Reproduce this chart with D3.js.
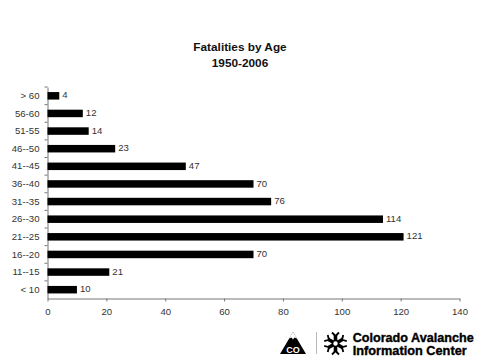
<!DOCTYPE html>
<html><head><meta charset="utf-8">
<script src="https://cdn.jsdelivr.net/npm/d3@7"></script>
<style>html,body{margin:0;padding:0;background:#fff}svg{display:block}text{font-family:"Liberation Sans",Arial,sans-serif}</style>
</head><body><svg id="c" width="480" height="359"></svg>
<script>
const categories=["> 60","56-60","51-55","46--50","41--45","36--40","31--35","26--30","21--25","16--20","11--15","< 10"];
const values=[4,12,14,23,47,70,76,114,121,70,21,10];
const xTicks=[0,20,40,60,80,100,120,140];
const titleLines=["Fatalities by Age","1950-2006"];
const logoLines=["Colorado Avalanche","Information Center"];
const logoWidths=[121,114];
const svg=d3.select("#c");
const x=d3.scaleLinear().domain([0,140]).range([47.5,459.5]);
const y=d3.scaleBand().domain(categories).range([87,298.5]);
const ink="#333";
const fs=9.6;
const xa=svg.append("g").attr("transform","translate(0,298.5)")
 .call(d3.axisBottom(x).tickValues(xTicks).tickSize(3).tickSizeOuter(0).tickPadding(7));
xa.selectAll("text").attr("font-size",fs).attr("fill",ink).style("font-family",'"Liberation Sans",Arial,sans-serif');
const ya=svg.append("g").attr("transform","translate(47.5,0)")
 .call(d3.axisLeft(y).tickSize(0).tickPadding(8));
ya.selectAll("text").attr("font-size",fs).attr("fill",ink).style("font-family",'"Liberation Sans",Arial,sans-serif');
svg.selectAll(".domain").attr("stroke","#777");
svg.selectAll(".tick line").attr("stroke","#777");
svg.append("g").selectAll("line").data(categories).join("line")
 .attr("x1",44.5).attr("x2",47.5)
 .attr("y1",d=>y(d)).attr("y2",d=>y(d)).attr("stroke","#777");
const barH=7.5;
svg.append("g").selectAll("rect").data(values).join("rect")
 .attr("x",x(0)).attr("width",d=>x(d)-x(0))
 .attr("y",(d,i)=>y(categories[i])+y.bandwidth()/2-barH/2).attr("height",barH)
 .attr("fill","#000");
svg.append("g").selectAll("text").data(values).join("text")
 .attr("x",d=>x(d)+3)
 .attr("y",(d,i)=>y(categories[i])+y.bandwidth()/2-0.5)
 .attr("dy","0.32em").attr("font-size",fs).attr("fill",ink).text(d=>d);
svg.append("g").selectAll("text").data(titleLines).join("text")
 .attr("x",240).attr("y",(d,i)=>51+i*15.7).attr("text-anchor","middle")
 .attr("font-size",11.8).attr("font-weight","bold").attr("fill","#111").text(d=>d);
// logo
const logo=svg.append("g");
logo.append("path").attr("d","M280 354 L293 332 L306 354 Z").attr("fill","#000");
logo.append("path").attr("d","M289 338.5 L293 332 L297 338.5 L294.5 337.5 L293 339.5 L291.5 337.5 Z").attr("fill","#fff");
logo.append("text").attr("x",293).attr("y",353).attr("text-anchor","middle").attr("font-size",9).attr("font-weight","bold").attr("fill","#fff").text("CO");
logo.append("line").attr("x1",316.5).attr("x2",316.5).attr("y1",332).attr("y2",354).attr("stroke","#bbb");
const flake=logo.append("g").attr("transform","translate(335.5,343.5)");
d3.range(6).forEach(i=>{
 const g=flake.append("g").attr("transform",`rotate(${i*60})`);
 g.append("line").attr("x1",0).attr("x2",0).attr("y1",-3).attr("y2",-8.5).attr("stroke","#000").attr("stroke-width",3.6);
 g.append("line").attr("x1",-3.5).attr("x2",0).attr("y1",-11).attr("y2",-7.5).attr("stroke","#000").attr("stroke-width",1.8);
 g.append("line").attr("x1",3.5).attr("x2",0).attr("y1",-11).attr("y2",-7.5).attr("stroke","#000").attr("stroke-width",1.8);
});
flake.append("circle").attr("r",3).attr("fill","none").attr("stroke","#000").attr("stroke-width",1.5);
logo.append("g").selectAll("text").data(logoLines).join("text")
 .attr("x",352.7).attr("y",(d,i)=>341.5+i*13).attr("font-size",12).attr("font-weight","bold")
 .attr("textLength",(d,i)=>logoWidths[i]).attr("lengthAdjust","spacingAndGlyphs")
 .attr("stroke","#000").attr("stroke-width",0.35).attr("fill","#000").text(d=>d);
</script></body></html>
